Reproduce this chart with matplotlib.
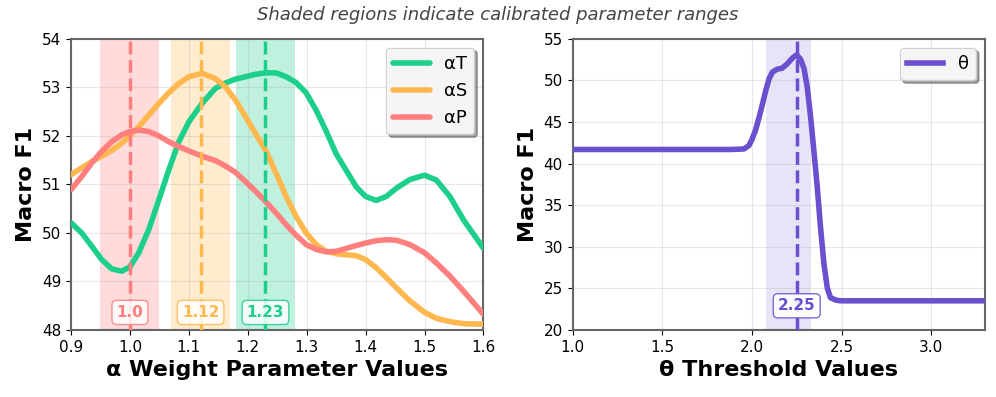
import numpy as np
import matplotlib
matplotlib.use('Agg')
import matplotlib.pyplot as plt

# alpha weight sweep
alpha_x = [0.900, 0.918, 0.935, 0.952, 0.969, 0.986, 1.000, 1.015, 1.032, 1.049, 1.066, 1.083,
           1.100, 1.123, 1.145, 1.162, 1.179, 1.196, 1.213, 1.230, 1.248, 1.265, 1.282, 1.299,
           1.316, 1.333, 1.350, 1.367, 1.384, 1.400, 1.418, 1.435, 1.452, 1.475, 1.500, 1.520,
           1.543, 1.566, 1.588, 1.600]
alpha_T = [50.21, 50.00, 49.73, 49.45, 49.26, 49.21, 49.30, 49.59, 50.07, 50.68, 51.30, 51.88,
           52.29, 52.68, 52.98, 53.09, 53.17, 53.22, 53.27, 53.30, 53.30, 53.22, 53.10, 52.89,
           52.53, 52.10, 51.63, 51.29, 50.95, 50.75, 50.67, 50.75, 50.92, 51.10, 51.19, 51.09,
           50.75, 50.27, 49.89, 49.68]
alpha_S = [51.20, 51.34, 51.47, 51.58, 51.70, 51.85, 52.00, 52.19, 52.43, 52.67, 52.89, 53.08,
           53.22, 53.29, 53.18, 53.01, 52.74, 52.40, 52.05, 51.71, 51.23, 50.75, 50.34, 50.00,
           49.76, 49.62, 49.57, 49.55, 49.53, 49.45, 49.28, 49.08, 48.87, 48.60, 48.36, 48.24,
           48.17, 48.13, 48.12, 48.12]
alpha_P = [50.89, 51.16, 51.44, 51.68, 51.88, 52.02, 52.09, 52.12, 52.09, 52.00, 51.88, 51.78,
           51.69, 51.58, 51.49, 51.38, 51.25, 51.06, 50.86, 50.65, 50.41, 50.17, 49.95, 49.76,
           49.66, 49.61, 49.62, 49.68, 49.74, 49.79, 49.84, 49.86, 49.85, 49.76, 49.59, 49.38,
           49.11, 48.80, 48.49, 48.32]

alpha_names = ['αT', 'αS', 'αP']
alpha_best = [1.23, 1.12, 1.0]
alpha_lo = [1.18, 1.07, 0.95]
alpha_hi = [1.28, 1.17, 1.05]
alpha_colors = ['#1ccf8b', '#ffb84d', '#ff7f7f']

# theta threshold sweep
theta_x = [1.0, 1.5, 1.881, 1.955, 1.983, 2.000, 2.021, 2.039, 2.058, 2.076, 2.095, 2.114,
           2.141, 2.169, 2.197, 2.225, 2.249, 2.271, 2.290, 2.308, 2.327, 2.345, 2.364, 2.382,
           2.401, 2.420, 2.438, 2.466, 2.494, 3.0, 3.3]
theta_y = [41.7, 41.7, 41.7, 41.76, 42.16, 42.88, 44.08, 45.48, 47.08, 48.68, 50.16, 51.0,
           51.36, 51.48, 52.0, 52.68, 53.08, 52.56, 51.48, 49.28, 45.68, 41.68, 37.28, 32.48,
           28.08, 25.08, 23.88, 23.6, 23.5, 23.5, 23.5]
theta_best = 2.25
theta_lo, theta_hi = 2.08, 2.33
theta_color = '#6a4fcf'

fig, (ax1, ax2) = plt.subplots(1, 2, figsize=(9.96, 3.97), dpi=100)
fig.subplots_adjust(left=0.0713, right=0.989, bottom=0.169, top=0.902, wspace=0.216)

# left panel
for lo, hi, c in zip(alpha_lo, alpha_hi, alpha_colors):
    ax1.axvspan(lo, hi, color=c, alpha=0.28, lw=0, zorder=1)
for ys, name, c in zip([alpha_T, alpha_S, alpha_P], alpha_names, alpha_colors):
    ax1.plot(alpha_x, ys, color=c, lw=4, label=name, zorder=3,
             solid_capstyle='round', solid_joinstyle='round')
for b, c in zip(alpha_best, alpha_colors):
    ax1.axvline(b, color=c, ls='--', lw=2.5, zorder=4)
    ax1.text(b, 48.36, str(b), color=c, ha='center', va='center', fontsize=11,
             fontweight='bold', zorder=5,
             bbox=dict(boxstyle='round,pad=0.3', fc='white', ec=c, alpha=0.85))
ax1.set_xlim(0.9, 1.6)
ax1.set_ylim(48, 54)
ax1.set_xlabel('α Weight Parameter Values', fontsize=16, fontweight='bold')
ax1.set_ylabel('Macro F1', fontsize=16, fontweight='bold')
ax1.legend(loc='upper right', fontsize=13, shadow=True, fancybox=True, framealpha=0.9)

# right panel
ax2.axvspan(theta_lo, theta_hi, color=theta_color, alpha=0.15, lw=0, zorder=1)
ax2.plot(theta_x, theta_y, color=theta_color, lw=4, label='θ', zorder=3,
         solid_joinstyle='round')
ax2.axvline(theta_best, color=theta_color, ls='--', lw=2.5, zorder=4)
ax2.text(theta_best, 22.9, str(theta_best), color=theta_color, ha='center', va='center',
         fontsize=11, fontweight='bold', zorder=5,
         bbox=dict(boxstyle='round,pad=0.3', fc='white', ec=theta_color, alpha=0.85))
ax2.set_xlim(1.0, 3.3)
ax2.set_ylim(20, 55)
ax2.set_xlabel('θ Threshold Values', fontsize=16, fontweight='bold')
ax2.set_ylabel('Macro F1', fontsize=16, fontweight='bold')
ax2.legend(loc='upper right', fontsize=13, shadow=True, fancybox=True, framealpha=0.9)

for ax in (ax1, ax2):
    ax.grid(True, alpha=0.3)
    ax.tick_params(labelsize=11)
    for s in ax.spines.values():
        s.set_color('#666666')
        s.set_linewidth(1.5)

fig.suptitle('Shaded regions indicate calibrated parameter ranges', fontsize=13,
             style='italic', color='#444444', y=0.985)

fig.savefig('out.png', dpi=100)
